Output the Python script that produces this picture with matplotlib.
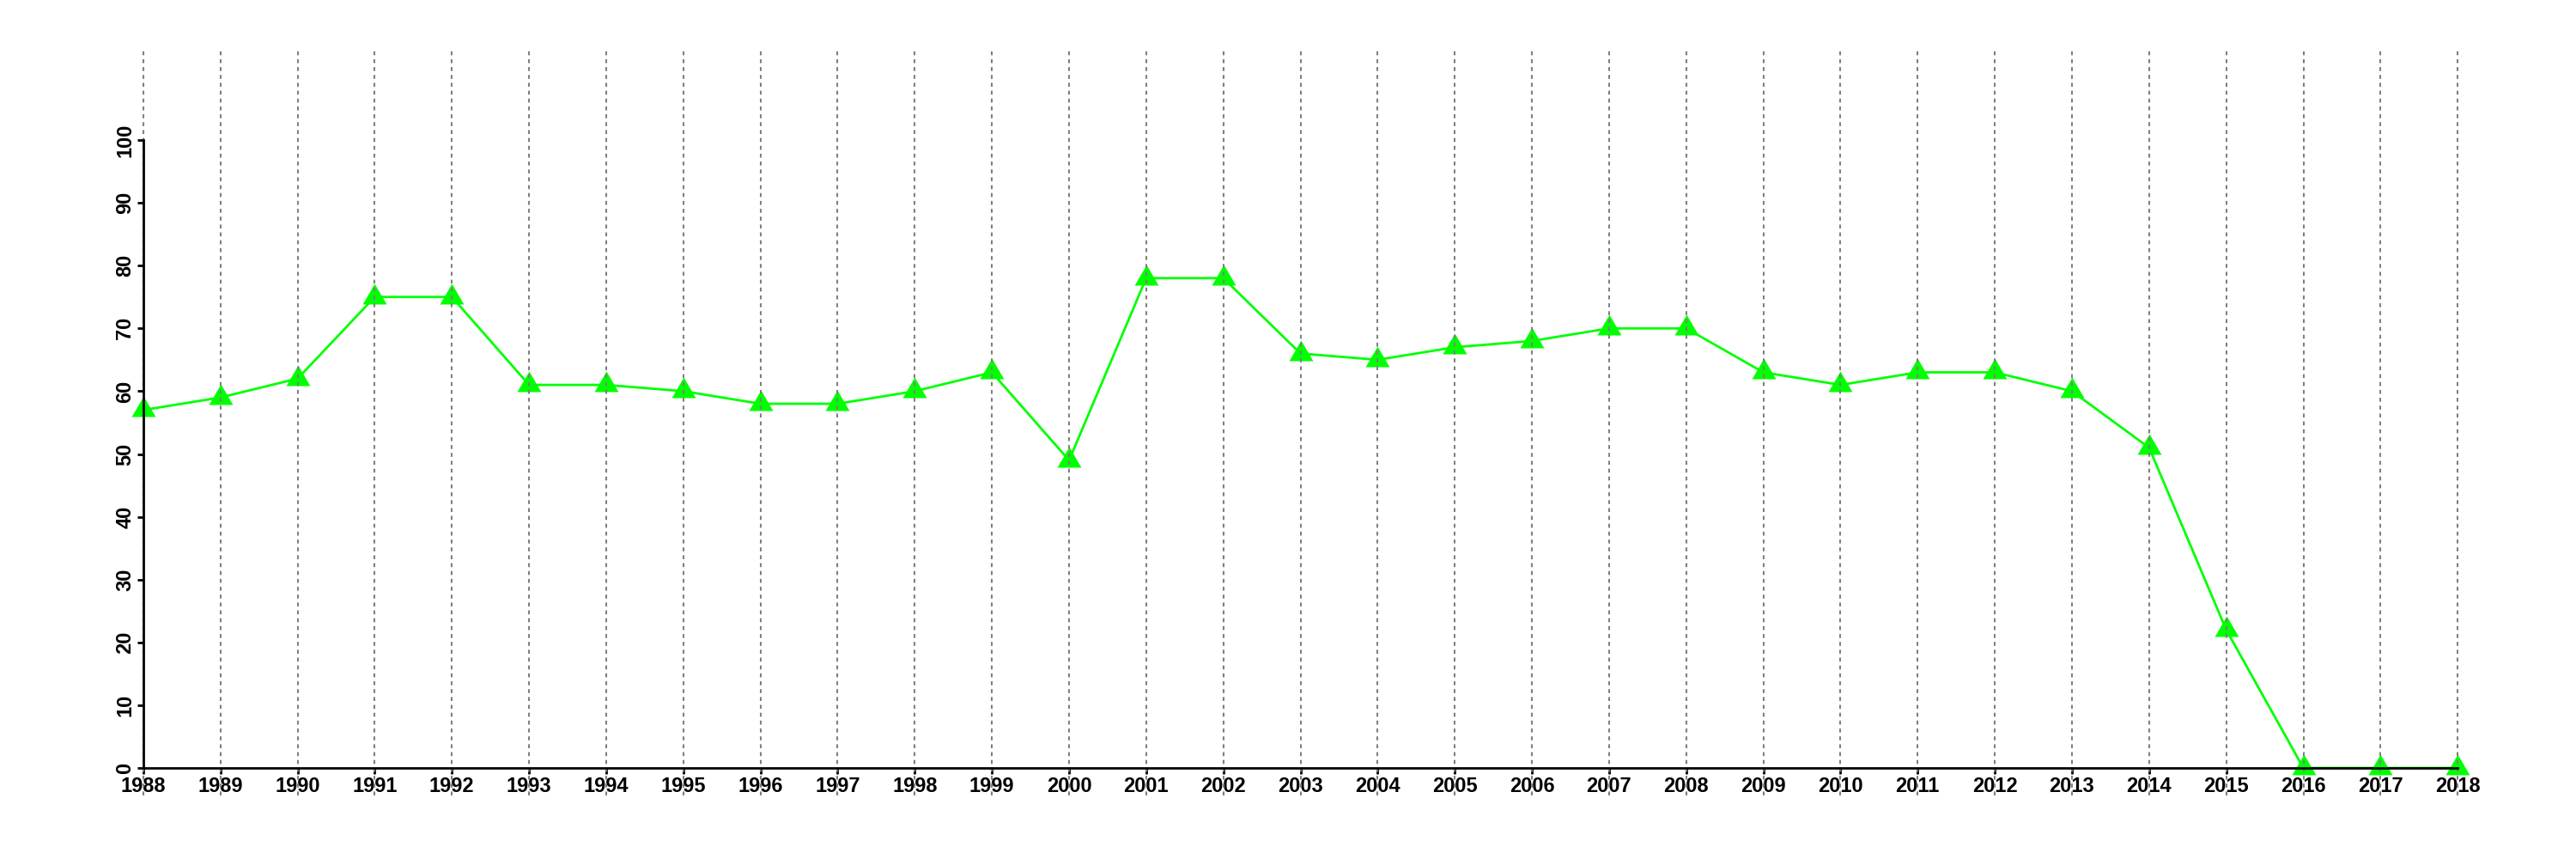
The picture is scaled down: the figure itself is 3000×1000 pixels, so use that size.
import matplotlib
matplotlib.use("Agg")
import matplotlib.pyplot as plt

years = list(range(1988, 2019))
values = [57, 59, 62, 75, 75, 61, 61, 60, 58, 58, 60, 63, 49, 78, 78, 66, 65,
          67, 68, 70, 70, 63, 61, 63, 63, 60, 51, 22, 0, 0, 0]
yticks = list(range(0, 101, 10))

plt.rcParams['font.family'] = ['Liberation Sans', 'DejaVu Sans']
plt.rcParams['font.weight'] = 'bold'

fig = plt.figure(figsize=(30, 10), dpi=100)
ax = fig.add_axes([0.0197, 0.0738, 0.9703, 0.8685])

x0, x1 = years[0], years[-1]
span = x1 - x0
ax.set_xlim(x0 - 0.04 * span, x1 + 0.04 * span)
ax.set_ylim(-4.4, 114.4)

tri = [(0, 1.0), (-0.875, -0.5), (0.875, -0.5), (0, 1.0)]
ax.plot(years, values, color='#00FF00', linewidth=2, marker=tri,
        markersize=23, markeredgewidth=0, markerfacecolor='#00FF00', zorder=2)

for yr in years:
    ax.axvline(yr, color='#808080', linewidth=1.5, linestyle=(0, (2.2, 2.2)), zorder=3)

for s in ['top', 'right']:
    ax.spines[s].set_visible(False)
ax.spines['left'].set_position(('data', x0))
ax.spines['left'].set_bounds(0, 100)
ax.spines['bottom'].set_position(('data', 0))
ax.spines['bottom'].set_bounds(x0, x1)
for s in ['left', 'bottom']:
    ax.spines[s].set_linewidth(2)
    ax.spines[s].set_zorder(4)

ax.set_xticks(years)
ax.set_xticklabels([str(y) for y in years], fontsize=17, fontweight='bold')
ax.set_yticks(yticks)
ax.set_yticklabels([str(v) for v in yticks], fontsize=17, fontweight='bold',
                   rotation=90, va='center')
ax.tick_params(axis='both', direction='out', length=5, width=2, pad=2)
ax.patch.set_visible(False)

fig.savefig('out.png', dpi=100, facecolor='white')
